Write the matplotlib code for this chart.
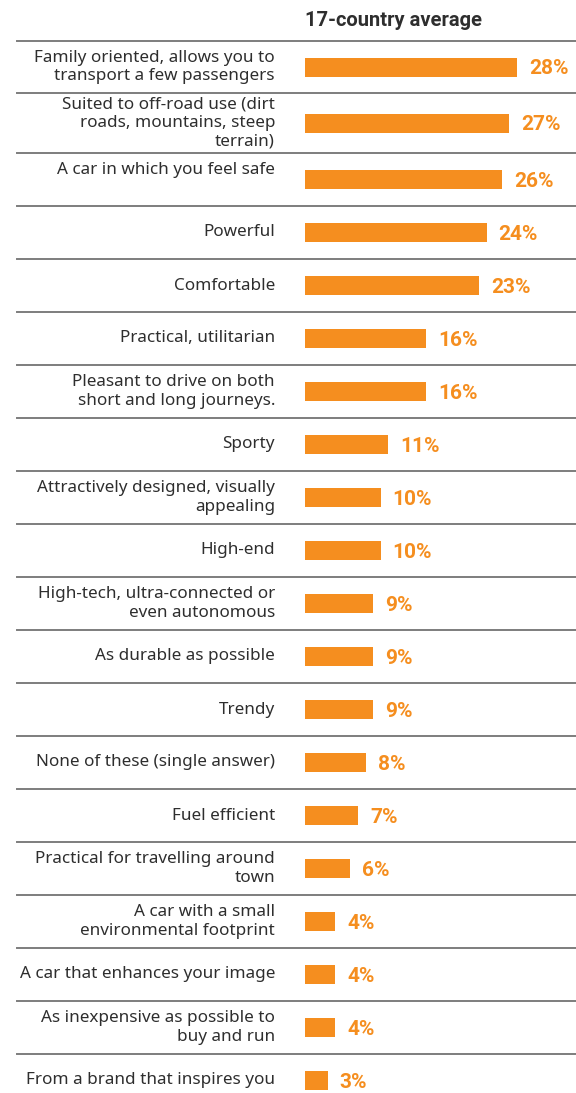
import matplotlib
matplotlib.use("Agg")
import matplotlib.pyplot as plt
from matplotlib.lines import Line2D
import matplotlib.transforms as mtransforms

plt.rcParams['font.family'] = ['Noto Sans', 'DejaVu Sans']

title = "17-country average"
categories = [
    "Family oriented, allows you to\ntransport a few passengers",
    "Suited to off-road use (dirt\nroads, mountains, steep\nterrain)",
    "A car in which you feel safe\n ",
    "Powerful",
    "Comfortable",
    "Practical, utilitarian",
    "Pleasant to drive on both\nshort and long journeys.",
    "Sporty",
    "Attractively designed, visually\nappealing",
    "High-end",
    "High-tech, ultra-connected or\neven autonomous",
    "As durable as possible",
    "Trendy",
    "None of these (single answer)",
    "Fuel efficient",
    "Practical for travelling around\ntown",
    "A car with a small\nenvironmental footprint",
    "A car that enhances your image",
    "As inexpensive as possible to\nbuy and run",
    "From a brand that inspires you",
]
values = [28, 27, 26, 24, 23, 16, 16, 11, 10, 10, 9, 9, 9, 8, 7, 6, 4, 4, 4, 3]

BAR_COLOR = "#F58E1F"
TEXT_COLOR = "#2e2e2e"
LINE_COLOR = "#7d7d7d"
BOLD_FONT = ['Roboto', 'DejaVu Sans']

W, H = 576, 1093
fig = plt.figure(figsize=(W / 100, H / 100), dpi=100)

bar_left_px = 305
px_per_unit = 7.57
ax = fig.add_axes([bar_left_px / W, 0, (W - bar_left_px) / W, 1])
ax.set_xlim(0, (W - bar_left_px) / px_per_unit)
ax.set_ylim(H, 0)
ax.axis("off")

# row layout (pixel units on y)
top = 41
heights = []
for c in categories:
    n = c.count("\n") + 1
    heights.append(60 if n >= 3 else 53)
heights[0] = 52
bounds = [top]
for h in heights:
    bounds.append(bounds[-1] + h)
centers = [(bounds[i] + bounds[i + 1]) / 2 for i in range(len(categories))]

ax.barh(centers, values, height=19, left=0, color=BAR_COLOR, linewidth=0)

blend = mtransforms.blended_transform_factory(fig.transFigure, ax.transData)
for b in bounds[:-1]:
    fig.add_artist(Line2D([17 / W, 1.0], [b, b], transform=blend,
                          color=LINE_COLOR, lw=1.4))

for c, y, v in zip(categories, centers, values):
    fig.text(275 / W, y, c, transform=blend, ha="right", va="center",
             fontsize=12.3, color=TEXT_COLOR, linespacing=1.22)
    ax.annotate(f"{v}%", xy=(v, y), xytext=(12, -2), textcoords="offset pixels",
                ha="left", va="center", fontsize=15, fontweight="bold",
                color=BAR_COLOR, family=BOLD_FONT)

fig.text(bar_left_px / W, 1 - 20 / H, title, ha="left", va="center",
         fontsize=14.5, fontweight="bold", color=TEXT_COLOR, family=BOLD_FONT)

fig.savefig("out.png", dpi=100, facecolor="white")
